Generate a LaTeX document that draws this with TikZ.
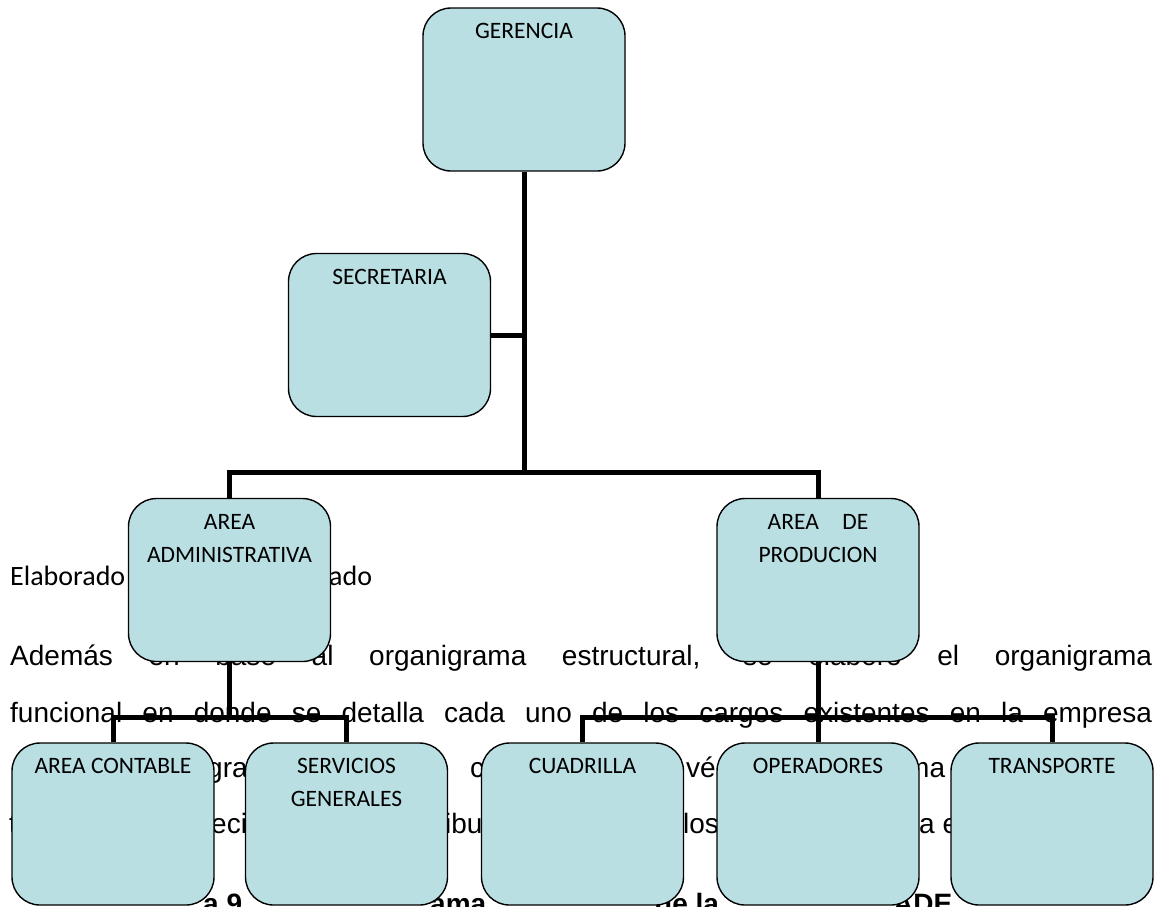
\documentclass[tikz,border=0pt]{standalone}
\usepackage{fontspec}
\setmainfont{Liberation Sans}
\newfontfamily\cargofont{Carlito}
\usetikzlibrary{positioning}
\usepackage{xcolor}
\definecolor{caja_color}{RGB}{185, 223, 227}

\begin{document}
\begin{tikzpicture}[x=1pt, y=-1pt,
    cargo/.style={draw=black, line width=1.4pt, fill=caja_color, rounded corners=28pt,
      minimum width=202pt, minimum height=163pt, inner sep=0pt},
    rotulo/.style={anchor=north, yshift=-16pt, inner sep=0pt, align=center,
      font=\cargofont\fontsize{23.5}{33}\selectfont},
    enlace/.style={line width=5pt, line join=miter},
    texto/.style={anchor=base west, inner sep=0pt, font=\fontsize{28}{34}\selectfont},
    negrita/.style={anchor=base west, inner sep=0pt, font=\bfseries\fontsize{28}{34}\selectfont},
    nota/.style={anchor=base west, inner sep=0pt, font=\cargofont\fontsize{28}{34}\selectfont}]

      \useasboundingbox (0,0) rectangle (1158,906);

      % 1. Texto del documento (queda detras del organigrama)
      \node[nota] (elab) at (10,585) {Elaborado};
      \node[nota] (elabfin) at (329,585) {ado};
      \node[texto] (linea2) at (10,665) {\makebox[1142pt][s]{Además en base al organigrama estructural, se elaboró el organigrama}};
      \node[texto] (linea3) at (10,722) {\makebox[1142pt][s]{funcional en donde se detalla cada uno de los cargos existentes en la empresa}};

      % fragmentos visibles entre las cajas
      \node[texto] (r4a) at (207,777) {gra};
      \node[texto] (r4b) at (470,777) {c};
      \node[texto] (r4c) at (686,777) {vés};
      \node[texto] (r4d) at (906,777) {ma};

      \node[texto] (r5a) at (9,833) {t};
      \node[texto] (r5b) at (211,833) {eci};
      \node[texto] (r5c) at (445,833) {ibu};
      \node[texto] (r5d) at (683,833) {los};
      \node[texto] (r5e) at (919,833) {a e};

      \node[negrita] (r6a) at (203,913) {a 9};
      \node[negrita] (r6b) at (430,913) {ama};
      \node[negrita] (r6c) at (655,913) {de la};
      \node[negrita] (r6d) at (893,913) {ADE};

      % 2. CAJAS del organigrama
      \node[cargo, label={[rotulo]north:GERENCIA}] (ger) at (524,89.5) {};
      \node[cargo, label={[rotulo]north:SECRETARIA}] (sec) at (389.5,335) {};

      \node[cargo, label={[rotulo]north:AREA\\ADMINISTRATIVA}] (adm) at (229.5,580) {};
      \node[cargo, label={[rotulo]north:AREA\quad DE\\PRODUCION}] (prod) at (818,580) {};

      \node[cargo, minimum height=162pt, label={[rotulo]north:AREA CONTABLE}] (cont) at (113,824) {};
      \node[cargo, minimum height=162pt, label={[rotulo]north:SERVICIOS\\GENERALES}] (serv) at (346.5,824) {};
      \node[cargo, minimum height=162pt, label={[rotulo]north:CUADRILLA}] (cuad) at (582.5,824) {};
      \node[cargo, minimum height=162pt, label={[rotulo]north:OPERADORES}] (oper) at (818,824) {};
      \node[cargo, minimum height=162pt, label={[rotulo]north:TRANSPORTE}] (trans) at (1052,824) {};

      % 3. CONECTORES
      \coordinate (nudo1) at (524,472);
      \coordinate (nudo2) at ([yshift=-55pt]adm.south);
      \coordinate (nudo3) at ([yshift=-55pt]prod.south);

      \draw[enlace] (ger.south) -- (nudo1);
      \draw[enlace] (sec.east) -- (sec.east -| nudo1);
      \draw[enlace] (adm.north) |- (nudo1) -| (prod.north);

      \draw[enlace] (adm.south) -- (nudo2);
      \draw[enlace] (cont.north) |- (nudo2) -| (serv.north);

      \draw[enlace] (prod.south) -- (oper.north);
      \draw[enlace] (cuad.north) |- (nudo3) -| (trans.north);

    \end{tikzpicture}
\end{document}
